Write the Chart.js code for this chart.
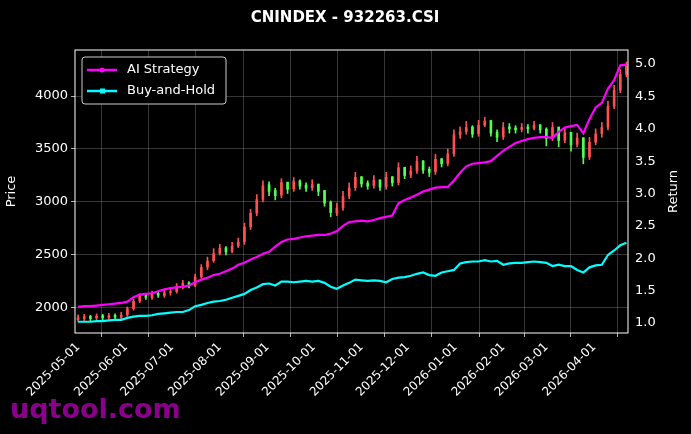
<!DOCTYPE html>
<html><head><meta charset="utf-8">
<script src="https://cdn.jsdelivr.net/npm/chart.js@4"></script>
<style>html,body{margin:0;background:#000;}#w{width:691px;height:434px;}</style>
</head><body><div id="w"><canvas id="c"></canvas></div>
<script>
const days=[0,4,8,12,16,20,24,28,32,36,40,44,48,52,56,60,64,68,72,76,80,84,88,92,96,100,104,108,112,116,120,124,128,132,136,140,144,148,152,156,160,164,168,172,176,180,184,188,192,196,200,204,208,212,216,220,224,228,232,236,240,244,248,252,256,260,264,268,272,276,280,284,288,292,296,300,304,308,312,316,320,324,328,332,336,340,344,348,352,356];
const closeP=[1905,1915,1900,1920,1910,1925,1915,1930,1990,2060,2110,2100,2130,2120,2140,2150,2200,2230,2210,2290,2380,2440,2510,2560,2530,2580,2620,2760,2890,3020,3150,3100,3060,3180,3120,3190,3150,3130,3160,3100,2990,2900,2940,3050,3130,3230,3170,3150,3200,3140,3230,3180,3320,3250,3290,3380,3300,3280,3400,3360,3450,3630,3660,3700,3640,3720,3760,3650,3610,3700,3690,3680,3700,3690,3720,3680,3600,3700,3580,3650,3540,3600,3420,3560,3640,3700,3900,4050,4200,4280];
const openP=[1890,1900,1920,1905,1925,1910,1928,1912,1935,1995,2065,2115,2098,2135,2118,2145,2155,2205,2235,2215,2295,2385,2445,2515,2565,2535,2585,2625,2765,2895,3025,3160,3105,3065,3185,3125,3195,3155,3135,3165,3105,2995,2895,2945,3055,3135,3235,3175,3155,3205,3145,3235,3185,3325,3255,3295,3385,3305,3285,3405,3365,3455,3635,3665,3705,3645,3725,3765,3655,3615,3705,3695,3685,3705,3695,3725,3685,3605,3705,3585,3655,3545,3605,3425,3565,3645,3705,3905,4055,4205];
const highP=[1935,1940,1930,1945,1940,1950,1945,1960,2010,2085,2135,2130,2160,2150,2170,2180,2230,2260,2250,2320,2410,2480,2560,2600,2580,2620,2660,2800,2930,3070,3200,3190,3130,3220,3180,3230,3210,3180,3210,3170,3110,3010,2990,3100,3180,3280,3240,3200,3250,3210,3280,3240,3370,3320,3340,3430,3390,3330,3450,3410,3500,3680,3710,3760,3720,3770,3800,3770,3680,3750,3740,3720,3740,3730,3760,3730,3700,3750,3700,3700,3650,3650,3600,3610,3690,3750,3950,4100,4250,4320];
const lowP=[1870,1880,1880,1890,1890,1895,1895,1900,1920,1980,2050,2080,2080,2100,2100,2120,2140,2180,2190,2200,2280,2360,2430,2500,2500,2520,2570,2600,2740,2870,3000,3060,3020,3040,3080,3100,3120,3100,3110,3060,2960,2860,2870,2920,3030,3110,3140,3120,3130,3110,3120,3150,3160,3220,3230,3270,3270,3240,3260,3330,3340,3430,3600,3640,3610,3620,3710,3620,3570,3590,3650,3650,3660,3650,3680,3650,3530,3580,3520,3560,3480,3520,3360,3400,3540,3610,3680,3880,4030,4180];
const aiStrategy=[1.25,1.26,1.26,1.27,1.28,1.29,1.30,1.31,1.33,1.40,1.44,1.45,1.46,1.49,1.52,1.54,1.55,1.56,1.58,1.63,1.67,1.70,1.74,1.76,1.80,1.84,1.90,1.93,1.98,2.02,2.07,2.10,2.18,2.25,2.29,2.30,2.32,2.34,2.35,2.36,2.36,2.38,2.42,2.50,2.56,2.57,2.58,2.57,2.59,2.62,2.64,2.66,2.85,2.90,2.94,2.98,3.03,3.06,3.09,3.10,3.10,3.20,3.32,3.42,3.46,3.47,3.48,3.50,3.58,3.66,3.72,3.78,3.81,3.84,3.86,3.87,3.87,3.86,3.95,4.02,4.04,4.06,3.93,4.15,4.33,4.40,4.62,4.75,4.98,4.99];
const buyHold=[1.02,1.02,1.02,1.03,1.03,1.04,1.05,1.05,1.08,1.10,1.11,1.11,1.12,1.14,1.15,1.16,1.17,1.17,1.20,1.26,1.28,1.31,1.33,1.34,1.36,1.39,1.42,1.45,1.51,1.55,1.60,1.61,1.58,1.64,1.64,1.63,1.64,1.65,1.64,1.65,1.62,1.56,1.53,1.58,1.62,1.67,1.66,1.65,1.66,1.65,1.63,1.68,1.70,1.71,1.73,1.76,1.78,1.74,1.73,1.78,1.80,1.82,1.92,1.94,1.95,1.95,1.97,1.95,1.96,1.90,1.92,1.93,1.93,1.94,1.95,1.94,1.93,1.88,1.90,1.88,1.88,1.82,1.78,1.86,1.89,1.90,2.05,2.12,2.20,2.24];
const monthTickDays=[0,31,61,92,123,153,184,214,245,276,304,335];
const monthTickLabels=['2025-05-01','2025-06-01','2025-07-01','2025-08-01','2025-09-01','2025-10-01','2025-11-01','2025-12-01','2026-01-01','2026-02-01','2026-03-01','2026-04-01'];
const priceTicks=[2000,2500,3000,3500,4000];
const returnTicks=[1.0,1.5,2.0,2.5,3.0,3.5,4.0,4.5,5.0];

const UP='#ff5050',DOWN='#50ff50';
const cols=closeP.map((c,i)=>c>=openP[i]?UP:DOWN);
const wick=days.map((d,i)=>({x:d,y:[lowP[i],highP[i]]}));
const body=days.map((d,i)=>({x:d,y:[Math.min(openP[i],closeP[i]),Math.max(openP[i],closeP[i])+3]}));
const grid={color:'rgba(140,140,140,0.55)',borderDash:[3,3],lineWidth:0.7,drawTicks:true,tickColor:'#fff',tickLength:4};
const deco={id:'deco',afterDraw(ch){const x=ch.ctx,a=ch.chartArea;x.save();
x.fillStyle='#fff';x.font='bold 15px "DejaVu Sans"';x.textAlign='center';x.textBaseline='middle';x.fillText('CNINDEX - 932263.CSI',345,18);
x.strokeStyle='#fff';x.lineWidth=1;x.strokeRect(a.left,a.top,a.right-a.left,a.bottom-a.top);
x.font='13px "DejaVu Sans"';
x.save();x.translate(674,(a.top+a.bottom)/2);x.rotate(-Math.PI/2);x.fillText('Return',0,0);x.restore();
// legend
x.fillStyle='#000';x.strokeStyle='#ccc';x.beginPath();x.roundRect(82,57,144,47,3);x.fill();x.stroke();
x.textAlign='left';
[['AI Strategy','#ff00ff',70],['Buy-and-Hold','#00ffff',91]].forEach(([t,c,y],k)=>{x.strokeStyle=c;x.lineWidth=2.5;x.beginPath();x.moveTo(87,y);x.lineTo(117,y);x.stroke();x.fillStyle=c;if(k==0){x.beginPath();x.arc(102,y,2.5,0,7);x.fill();}else x.fillRect(100,y-2.5,5,5);x.fillStyle='#fff';x.fillText(t,127,y);});
x.fillStyle='#8b008b';x.font='bold 27px "DejaVu Sans"';x.textBaseline='alphabetic';x.fillText('uqtool.com',10,418);
x.restore();}};
new Chart(document.getElementById('c'),{type:'bar',
data:{datasets:[
{label:'wick',data:wick,backgroundColor:cols,barThickness:1,grouped:false,yAxisID:'y',order:3},
{label:'body',data:body,backgroundColor:cols,barThickness:2,grouped:false,yAxisID:'y',order:2},
{type:'line',label:'AI Strategy',data:days.map((d,i)=>({x:d,y:aiStrategy[i]})),borderColor:'#ff00ff',borderWidth:2.2,pointRadius:0,yAxisID:'y2',order:1},
{type:'line',label:'Buy-and-Hold',data:days.map((d,i)=>({x:d,y:buyHold[i]})),borderColor:'#00ffff',borderWidth:2.2,pointRadius:0,yAxisID:'y2',order:0}]},
options:{responsive:true,maintainAspectRatio:false,animation:false,
layout:{padding:{top:50,left:0,right:0,bottom:0}},
plugins:{legend:{display:false},tooltip:{enabled:false}},
scales:{
x:{type:'linear',min:-2,max:357,offset:false,grid:grid,border:{display:false},
afterBuildTicks(s){s.ticks=monthTickDays.map(v=>({value:v}));},
afterFit(s){s.height=101;},
ticks:{color:'#fff',font:{size:12,family:'DejaVu Sans'},maxRotation:45,minRotation:45,autoSkip:false,callback:(v)=>monthTickLabels[monthTickDays.indexOf(v)]}},
y:{position:'left',min:1764,max:4434,grid:grid,border:{display:false},
afterBuildTicks(s){s.ticks=priceTicks.map(v=>({value:v}));},afterFit(s){s.width=75;},
title:{display:true,text:'Price',color:'#fff',font:{size:13,family:'DejaVu Sans'}},
ticks:{color:'#fff',font:{size:13,family:'DejaVu Sans'},callback:v=>String(v)}},
y2:{position:'right',min:0.846,max:5.216,grid:{display:false,drawTicks:true,tickColor:'#fff',tickLength:4},border:{display:false},
afterBuildTicks(s){s.ticks=returnTicks.map(v=>({value:v}));},afterFit(s){s.width=63;},
ticks:{color:'#fff',font:{size:13,family:'DejaVu Sans'},callback:v=>v.toFixed(1)}}}},
plugins:[deco]});
</script></body></html>
